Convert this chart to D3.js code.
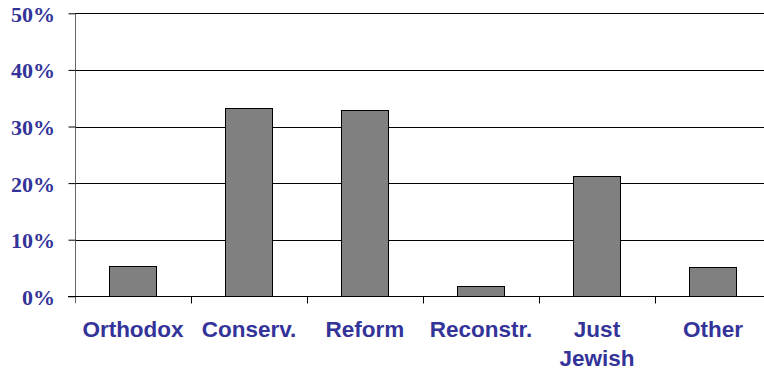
<!DOCTYPE html>
<html>
<head>
<meta charset="utf-8">
<script src="https://cdn.jsdelivr.net/npm/d3@7"></script>
<style>
  html, body { margin: 0; padding: 0; background: #fff; }
  svg { display: block; }
  .ylab { font-family: "Liberation Serif", "Times New Roman", Times, serif; font-weight: bold; font-size: 22px; }
  .xlab { font-family: "Liberation Sans", Arial, Helvetica, sans-serif; font-weight: bold; font-size: 22.5px; }
</style>
</head>
<body>
<svg id="chart" width="764" height="373"></svg>
<script>
// Denominational affiliation shares
const categories = ["Orthodox", "Conserv.", "Reform", "Reconstr.", "Just Jewish", "Other"];
const shares = [0.054, 0.333, 0.329, 0.018, 0.213, 0.052];
const yTicks = [0, 0.1, 0.2, 0.3, 0.4, 0.5];

const svg = d3.select("#chart");
const plotLeft = 75, plotRight = 771, plotTop = 13.3, plotBottom = 296.3;
const labelColor = "#333399";

const x = d3.scaleBand().domain(categories).range([plotLeft, plotRight]).paddingInner(0).paddingOuter(0);
const y = d3.scaleLinear().domain([0, 0.5]).range([plotBottom, plotTop]);

// horizontal gridlines
svg.append("g")
  .selectAll("line")
  .data(yTicks.filter(d => d > 0))
  .join("line")
  .attr("x1", plotLeft).attr("x2", 764)
  .attr("y1", d => Math.round(y(d)) + 0.5).attr("y2", d => Math.round(y(d)) + 0.5)
  .attr("stroke", "#000").attr("stroke-width", 1);

// y axis
const yAxis = svg.append("g")
  .attr("transform", `translate(${plotLeft + 0.5},0)`)
  .call(d3.axisLeft(y).tickValues(yTicks).tickSize(7).tickSizeOuter(0).tickFormat(d3.format(".0%")))
  .attr("font-family", null).attr("font-size", null);
yAxis.select(".domain").attr("stroke", "#666").attr("d", `M0,${plotTop}V${plotBottom + 7}`);
yAxis.selectAll(".tick line").attr("stroke", "#000");
yAxis.selectAll(".tick text")
  .attr("class", "ylab")
  .attr("x", -20.5)
  .attr("dy", "0.36em")
  .attr("fill", labelColor);

// bars
const bw = x.bandwidth();
svg.append("g")
  .selectAll("rect")
  .data(categories.map((c, i) => ({ c, v: shares[i] })))
  .join("rect")
  .attr("x", d => Math.round(x(d.c) + bw * 0.296) + 0.5)
  .attr("width", Math.round(bw * 0.405))
  .attr("y", d => Math.round(y(d.v)) + 0.5)
  .attr("height", d => Math.round(plotBottom) - Math.round(y(d.v)))
  .attr("fill", "#808080")
  .attr("stroke", "#000")
  .attr("stroke-width", 1);

// x axis baseline and category dividers
const xAxis = svg.append("g").attr("transform", `translate(0,${Math.round(plotBottom) + 0.5})`);
xAxis.append("line")
  .attr("x1", plotLeft - 7).attr("x2", 764)
  .attr("stroke", "#000");
xAxis.selectAll("line.div")
  .data(categories.slice(1))
  .join("line")
  .attr("class", "div")
  .attr("x1", d => Math.round(x(d)) + 0.5).attr("x2", d => Math.round(x(d)) + 0.5)
  .attr("y1", 0).attr("y2", 7)
  .attr("stroke", "#000");

// category labels
const labels = svg.append("g")
  .selectAll("text")
  .data(categories)
  .join("text")
  .attr("class", "xlab")
  .attr("x", d => x(d) + bw / 2)
  .attr("y", 337)
  .attr("text-anchor", "middle")
  .attr("fill", labelColor);
labels.each(function(d) {
  const words = d === "Just Jewish" ? ["Just", "Jewish"] : [d];
  d3.select(this).selectAll("tspan")
    .data(words)
    .join("tspan")
    .attr("x", x(d) + bw / 2)
    .attr("dy", (w, i) => i === 0 ? 0 : 29)
    .text(w => w);
});
</script>
</body>
</html>
